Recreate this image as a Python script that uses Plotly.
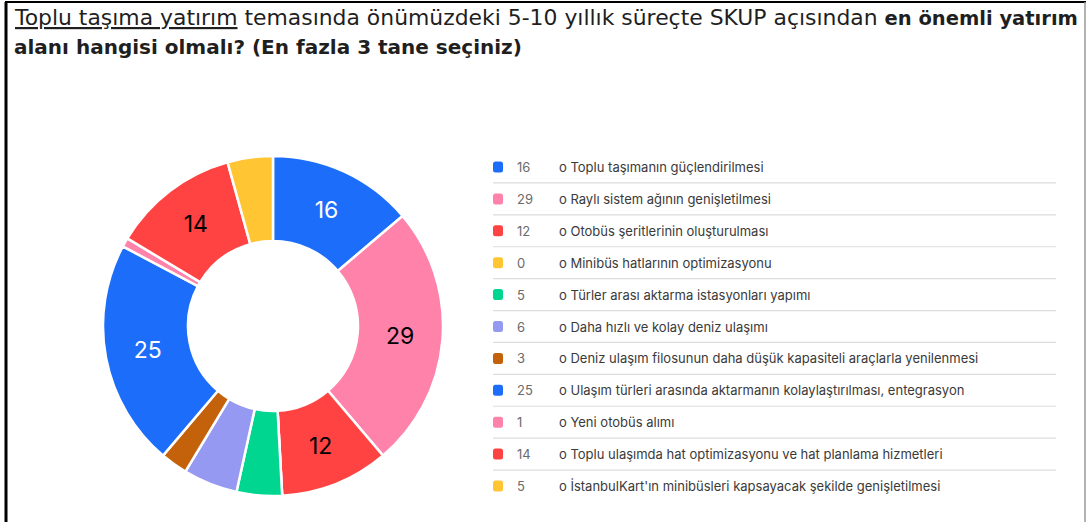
import plotly.graph_objects as go

W, H = 1087, 522

labels = [
    "o Toplu taşımanın güçlendirilmesi",
    "o Raylı sistem ağının genişletilmesi",
    "o Otobüs şeritlerinin oluşturulması",
    "o Minibüs hatlarının optimizasyonu",
    "o Türler arası aktarma istasyonları yapımı",
    "o Daha hızlı ve kolay deniz ulaşımı",
    "o Deniz ulaşım filosunun daha düşük kapasiteli araçlarla yenilenmesi",
    "o Ulaşım türleri arasında aktarmanın kolaylaştırılması, entegrasyon",
    "o Yeni otobüs alımı",
    "o Toplu ulaşımda hat optimizasyonu ve hat planlama hizmetleri",
    "o İstanbulKart'ın minibüsleri kapsayacak şekilde genişletilmesi",
]
values = [16, 29, 12, 0, 5, 6, 3, 25, 1, 14, 5]
colors = ["#1C6EFA", "#FF82AA", "#FF4242", "#FFC533", "#00D68F", "#9699F2",
          "#C4620C", "#1C6EFA", "#FF82AA", "#FF4242", "#FFC533"]
text_colors = ["white", "black", "black", "black", "black", "black",
               "black", "white", "black", "black", "black"]

def px(x):
    return x / W

def py(y):
    return 1 - y / H

cx, cy, r = 273, 326, 170

slice_text = [str(v) if v >= 10 else "" for v in values]

fig = go.Figure(go.Pie(
    labels=labels,
    values=values,
    text=slice_text,
    textinfo="text",
    textposition="inside",
    insidetextorientation="horizontal",
    insidetextfont=dict(color=text_colors, size=23, family="Inter, Roboto, sans-serif"),
    marker=dict(colors=colors, line=dict(color="white", width=2.5)),
    hole=0.5,
    sort=False,
    direction="clockwise",
    rotation=0,
    showlegend=False,
    domain=dict(x=[px(cx - r), px(cx + r)], y=[py(cy + r), py(cy - r)]),
))

annotations = []
shapes = []

# Title
title_font = dict(family="DejaVu Sans, sans-serif", size=21.9, color="#1f1f1f")
annotations.append(dict(
    x=px(12), y=py(18), xref="paper", yref="paper", xanchor="left", yanchor="middle",
    text=("<u>Toplu taşıma yatırım</u> temasında önümüzdeki 5-10 yıllık süreçte SKUP açısından "
          "<span style='font-size:19.5px'><b>en önemli yatırım</b></span>"),
    showarrow=False, font=title_font,
))
annotations.append(dict(
    x=px(12), y=py(47), xref="paper", yref="paper", xanchor="left", yanchor="middle",
    text="<b>alanı hangisi olmalı? (En fazla 3 tane seçiniz)</b>",
    showarrow=False, font=dict(family="DejaVu Sans, sans-serif", size=20, color="#1f1f1f"),
))

# Custom legend table
row0, step = 167, 31.9
for i, (lab, val, col) in enumerate(zip(labels, values, colors)):
    yc = row0 + i * step
    x0, x1, y0, y1, rr = 493, 503, yc - 5.5, yc + 5.5, 2.5
    path = (f"M {px(x0+rr)},{py(y0)} L {px(x1-rr)},{py(y0)} Q {px(x1)},{py(y0)} {px(x1)},{py(y0+rr)} "
            f"L {px(x1)},{py(y1-rr)} Q {px(x1)},{py(y1)} {px(x1-rr)},{py(y1)} "
            f"L {px(x0+rr)},{py(y1)} Q {px(x0)},{py(y1)} {px(x0)},{py(y1-rr)} "
            f"L {px(x0)},{py(y0+rr)} Q {px(x0)},{py(y0)} {px(x0+rr)},{py(y0)} Z")
    shapes.append(dict(type="path", xref="paper", yref="paper", path=path,
                       fillcolor=col, line=dict(width=0)))
    annotations.append(dict(
        x=px(515), y=py(yc), xref="paper", yref="paper", xanchor="left", yanchor="middle",
        text=str(val), showarrow=False,
        font=dict(family="Inter, Roboto, sans-serif", size=13, color="#6b6b6b"),
    ))
    annotations.append(dict(
        x=px(557), y=py(yc), xref="paper", yref="paper", xanchor="left", yanchor="middle",
        text=lab, showarrow=False,
        font=dict(family="Inter, Roboto, sans-serif", size=13, color="#3a3a3a"),
    ))
    if i < len(labels) - 1:
        ys = yc + step / 2
        shapes.append(dict(type="line", xref="paper", yref="paper",
                           x0=px(493), x1=px(1056), y0=py(ys), y1=py(ys),
                           line=dict(color="#dddddd", width=1.2)))

# Frame lines
shapes.append(dict(type="line", xref="paper", yref="paper", x0=px(6), x1=px(6), y0=0, y1=py(2),
                   line=dict(color="black", width=3)))
shapes.append(dict(type="line", xref="paper", yref="paper", x0=px(5), x1=px(1086), y0=py(2), y1=py(2),
                   line=dict(color="black", width=2)))
shapes.append(dict(type="line", xref="paper", yref="paper", x0=px(1085), x1=px(1085), y0=0, y1=py(2),
                   line=dict(color="#999999", width=1.5)))

fig.update_layout(
    width=W, height=H,
    margin=dict(l=0, r=0, t=0, b=0),
    paper_bgcolor="white", plot_bgcolor="white",
    annotations=annotations, shapes=shapes,
)

fig.write_html("out.html", config={"displayModeBar": False},
               post_script="document.body.style.margin='0';document.body.style.overflow='hidden';")
